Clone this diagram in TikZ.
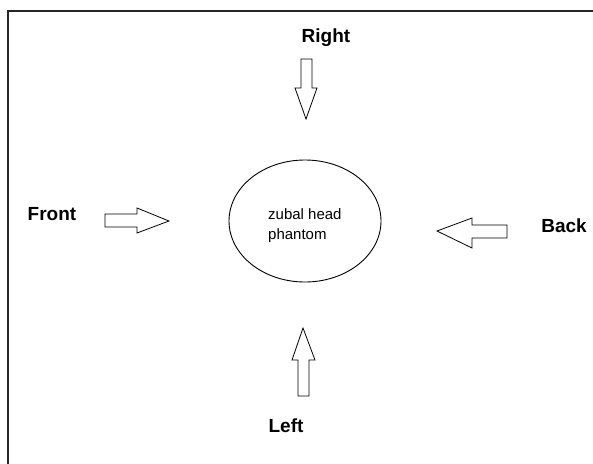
\documentclass[tikz,border=0pt]{standalone}
\usepackage{fontspec}
\setmainfont{Liberation Sans}
\usetikzlibrary{shapes.geometric}
\begin{document}
\begin{tikzpicture}[x=1pt,y=-1pt,
  lbl/.style={font=\fontsize{19}{22}\selectfont\bfseries, inner sep=0pt, anchor=base},
  inner/.style={font=\fontsize{15}{18}\selectfont, inner sep=0pt, anchor=base west},
  blockarrow/.style={draw, line width=0.8pt, fill=white, line join=miter},
  headshape/.style={draw, ellipse, line width=0.9pt, minimum width=152pt, minimum height=122pt, inner sep=0pt}
]
\useasboundingbox (0,0) rectangle (593,463);
\fill[white] (0,0) rectangle (593,463);
% frame (top and left edges visible)
\draw[line width=1.2pt, black!85] (8,470) -- (8,11) -- (600,11);

% head
\node[headshape] (head) at (305,221) {};
\node[inner] (t1) at (268,219) {zubal head};
\node[inner] (t2) at (268,239) {phantom};

% labels
\node[lbl] (right) at (326,42) {Right};
\node[lbl] (front) at (52,220) {Front};
\node[lbl] (back) at (564,232) {Back};
\node[lbl] (left) at (286,432) {Left};

% arrows
\draw[blockarrow] (301,59) -- (312,59) -- (312,88) -- (317,88) -- (306,119) -- (295,88) -- (301,88) -- cycle;
\draw[blockarrow] (105,214) -- (137,214) -- (137,208) -- (169,221) -- (137,233) -- (137,227) -- (105,227) -- cycle;
\draw[blockarrow] (507,225) -- (472,225) -- (472,218) -- (437,231) -- (472,248) -- (472,238) -- (507,238) -- cycle;
\draw[blockarrow] (298,396) -- (298,360) -- (292,360) -- (303,328) -- (315,360) -- (309,360) -- (309,396) -- cycle;
\end{tikzpicture}
\end{document}
